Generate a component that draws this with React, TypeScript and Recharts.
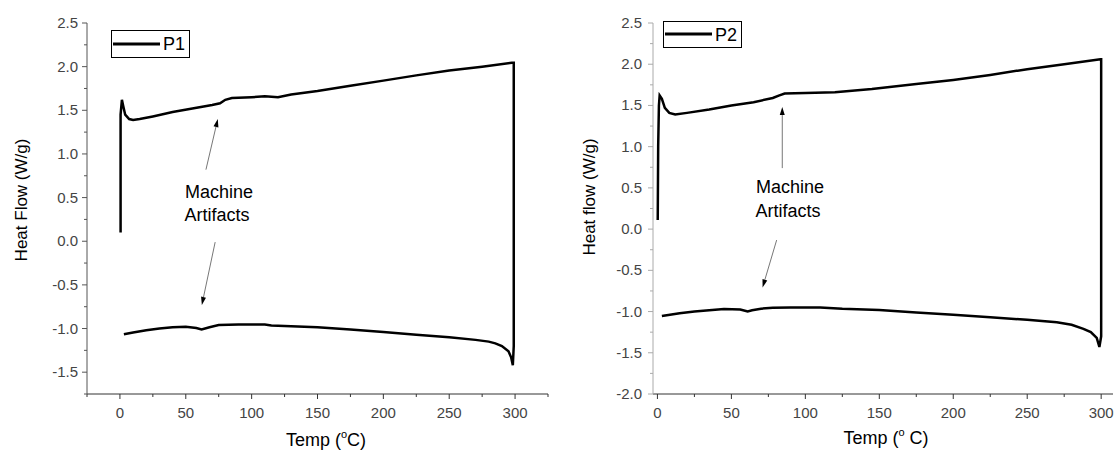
import { LineChart, Line, XAxis, YAxis, ReferenceLine } from 'recharts';

// P1 loop: heating 0 -> 300 °C, then cooling back to ~3 °C
const p1Temp = [
  0.5, 0.5, 1.5, 2.5, 4, 7, 10, 15, 25, 40, 55, 70, 76, 80, 85, 100, 110, 120, 130, 150, 175, 200, 225, 250, 275, 297.5,
  299, 299, 298.3,
  297, 295, 290, 285, 280, 270, 250, 225, 200, 175, 150, 125, 115, 110, 90, 75, 68, 62, 58, 50, 40, 30, 20, 10, 3,
];
const p1Flow = [
  0.1, 1.45, 1.62, 1.55, 1.45, 1.4, 1.39, 1.4, 1.43, 1.48, 1.52, 1.56, 1.58, 1.62, 1.64, 1.65, 1.66, 1.65, 1.68, 1.72, 1.78, 1.84, 1.9, 1.955, 2.0, 2.045,
  2.045, -1.2, -1.42,
  -1.33, -1.26, -1.2, -1.17, -1.15, -1.13, -1.1, -1.07, -1.04, -1.01, -0.985, -0.97, -0.965, -0.955, -0.955, -0.96, -0.985, -1.01, -0.995, -0.98, -0.985, -1.0, -1.02, -1.045, -1.065,
];

// P2 loop
const p2Temp = [
  0.2, 0.5, 1, 1.5, 3, 5, 8, 12, 20, 35, 50, 65, 78, 82, 86, 100, 120, 145, 175, 200, 225, 250, 275, 299.5,
  300, 300, 298.8,
  297, 293, 288, 280, 270, 250, 225, 200, 175, 150, 125, 110, 90, 78, 70, 64, 61, 56, 45, 35, 25, 15, 3,
];
const p2Flow = [
  0.11, 1.0, 1.5, 1.62, 1.58, 1.47, 1.41, 1.39, 1.41, 1.45, 1.5, 1.54, 1.59, 1.62, 1.645, 1.65, 1.66, 1.7, 1.76, 1.81, 1.87, 1.94, 2.0, 2.06,
  2.06, -1.3, -1.43,
  -1.32, -1.25, -1.21, -1.16, -1.13, -1.1, -1.07, -1.04, -1.01, -0.98, -0.965, -0.95, -0.95, -0.955, -0.965, -0.985, -1.0, -0.975, -0.97, -0.985, -1.0, -1.02, -1.055,
];

const xTicks1 = [-25, 0, 25, 50, 75, 100, 125, 150, 175, 200, 225, 250, 275, 300, 325];
const yTicks1 = [-1.75, -1.5, -1.25, -1, -0.75, -0.5, -0.25, 0, 0.25, 0.5, 0.75, 1, 1.25, 1.5, 1.75, 2, 2.25, 2.5];
const xTicks2 = [0, 25, 50, 75, 100, 125, 150, 175, 200, 225, 250, 275, 300];
const yTicks2 = [-2, -1.75, -1.5, -1.25, -1, -0.75, -0.5, -0.25, 0, 0.25, 0.5, 0.75, 1, 1.25, 1.5, 1.75, 2, 2.25, 2.5];

// annotation arrows, [tailT, tailFlow, headT, headFlow]
const p1Arrows = [
  [65.3, 0.82, 74.3, 1.4],
  [72.3, -0.01, 62.2, -0.73],
];
const p2Arrows = [
  [84.4, 0.74, 84.4, 1.48],
  [80.6, -0.133, 71.1, -0.707],
];

const FONT = '"Liberation Sans", Arial, sans-serif';
const TICK_COLOR = '#444';

const toRows = (t: number[], f: number[]) => t.map((temp, i) => ({ temp, flow: f[i] }));

const isMajor = (v: number, step: number) => Math.abs(v / step - Math.round(v / step)) < 1e-6;

const makeXTick = (color: string) => (props: any) => {
  const { x, y, payload } = props;
  const major = isMajor(payload.value, 50);
  return (
    <g>
      <line x1={x} y1={y} x2={x} y2={y + (major ? 5 : 3)} stroke={color} />
      {major && (
        <text x={x} y={y + 24} textAnchor="middle" fontSize={15} fill={TICK_COLOR} fontFamily={FONT}>
          {payload.value}
        </text>
      )}
    </g>
  );
};

const makeYTick = (color: string, gap: number) => (props: any) => {
  const { x, y, payload } = props;
  const major = isMajor(payload.value, 0.5);
  return (
    <g>
      <line x1={x} y1={y} x2={x - (major ? 5 : 3)} y2={y} stroke={color} />
      {major && (
        <text x={x - gap} y={y + 5} textAnchor="end" fontSize={15} fill={TICK_COLOR} fontFamily={FONT}>
          {payload.value.toFixed(1)}
        </text>
      )}
    </g>
  );
};

const Arrow = (props: any) => {
  const { x1, y1, x2, y2 } = props;
  const ang = Math.atan2(y2 - y1, x2 - x1);
  const len = 8;
  const half = 2.5;
  const bx = x2 - len * Math.cos(ang);
  const by = y2 - len * Math.sin(ang);
  const px = -Math.sin(ang) * half;
  const py = Math.cos(ang) * half;
  return (
    <g>
      <line x1={x1} y1={y1} x2={bx} y2={by} stroke="#777" strokeWidth={1} />
      <polygon points={`${x2},${y2} ${bx + px},${by + py} ${bx - px},${by - py}`} fill="#000" />
    </g>
  );
};

interface PanelProps {
  rows: { temp: number; flow: number }[];
  left: number;
  width: number;
  yAxisWidth: number;
  marginRight: number;
  xDomain: [number, number];
  yDomain: [number, number];
  xTicks: number[];
  yTicks: number[];
  xAxisColor: string;
  yAxisColor: string;
  labelGap: number;
  arrows: number[][];
}

function Panel(p: PanelProps) {
  return (
    <div style={{ position: 'absolute', left: p.left, top: 0 }}>
      <LineChart width={p.width} height={456} data={p.rows} margin={{ top: 23, right: p.marginRight, bottom: 22, left: 0 }}>
        <XAxis
          dataKey="temp"
          type="number"
          domain={p.xDomain}
          ticks={p.xTicks}
          interval={0}
          allowDataOverflow
          height={40}
          tickSize={0}
          tickMargin={0}
          tickLine={false}
          axisLine={{ stroke: p.xAxisColor }}
          tick={makeXTick(p.xAxisColor)}
        />
        <YAxis
          type="number"
          domain={p.yDomain}
          ticks={p.yTicks}
          interval={0}
          allowDataOverflow
          width={p.yAxisWidth}
          tickSize={0}
          tickMargin={0}
          tickLine={false}
          axisLine={{ stroke: p.yAxisColor }}
          tick={makeYTick(p.yAxisColor, p.labelGap)}
        />
        {p.arrows.map((a, i) => (
          <ReferenceLine
            key={i}
            segment={[{ x: a[0], y: a[1] }, { x: a[2], y: a[3] }]}
            shape={Arrow}
            ifOverflow="visible"
          />
        ))}
        <Line
          type="linear"
          dataKey="flow"
          stroke="#000"
          strokeWidth={2.5}
          dot={false}
          isAnimationActive={false}
        />
      </LineChart>
    </div>
  );
}

export default function App() {
  const textStyle = { fontFamily: FONT, fill: '#000' };
  return (
    <div style={{ position: 'absolute', left: 0, top: 0, width: 1115, height: 456, background: '#fff', fontFamily: FONT }}>
      <Panel
        rows={toRows(p1Temp, p1Flow)}
        left={0}
        width={560}
        yAxisWidth={87}
        marginRight={12}
        xDomain={[-25, 325]}
        yDomain={[-1.75, 2.5]}
        xTicks={xTicks1}
        yTicks={yTicks1}
        xAxisColor="#333"
        yAxisColor="#555"
        labelGap={9}
        arrows={p1Arrows}
      />
      <Panel
        rows={toRows(p2Temp, p2Flow)}
        left={563}
        width={552}
        yAxisWidth={90}
        marginRight={2}
        xDomain={[-3, 308]}
        yDomain={[-2, 2.5]}
        xTicks={xTicks2}
        yTicks={yTicks2}
        xAxisColor="#333"
        yAxisColor="#aaa"
        labelGap={11}
        arrows={p2Arrows}
      />
      <svg width={1115} height={456} style={{ position: 'absolute', left: 0, top: 0, pointerEvents: 'none' }}>
        {/* axis titles */}
        <text transform="translate(27,200) rotate(-90)" textAnchor="middle" fontSize={17} style={textStyle}>
          Heat Flow (W/g)
        </text>
        <text transform="translate(595,197) rotate(-90)" textAnchor="middle" fontSize={17} style={textStyle}>
          Heat flow (W/g)
        </text>
        <text x={326} y={446} textAnchor="middle" fontSize={18} style={textStyle}>
          Temp (<tspan fontSize={11} dy={-8}>o</tspan>
          <tspan dy={8}>C)</tspan>
        </text>
        <text x={886} y={444} textAnchor="middle" fontSize={18} style={textStyle}>
          Temp (<tspan fontSize={11} dy={-8}>o</tspan>
          <tspan dy={8}> C)</tspan>
        </text>

        {/* legends */}
        <rect x={111.5} y={30.5} width={78} height={27} fill="#fff" stroke="#000" />
        <line x1={113} y1={44} x2={160} y2={44} stroke="#000" strokeWidth={3} />
        <text x={163} y={50} fontSize={18} style={textStyle}>P1</text>
        <rect x={663.5} y={21.5} width={78} height={26} fill="#fff" stroke="#000" />
        <line x1={665} y1={34} x2={712} y2={34} stroke="#000" strokeWidth={3} />
        <text x={715} y={41} fontSize={18} style={textStyle}>P2</text>

        {/* annotation text */}
        <text x={219} y={198} textAnchor="middle" fontSize={18} style={textStyle}>Machine</text>
        <text x={217} y={221} textAnchor="middle" fontSize={18} style={textStyle}>Artifacts</text>
        <text x={790} y={193} textAnchor="middle" fontSize={18} style={textStyle}>Machine</text>
        <text x={788} y={217} textAnchor="middle" fontSize={18} style={textStyle}>Artifacts</text>
      </svg>
    </div>
  );
}
